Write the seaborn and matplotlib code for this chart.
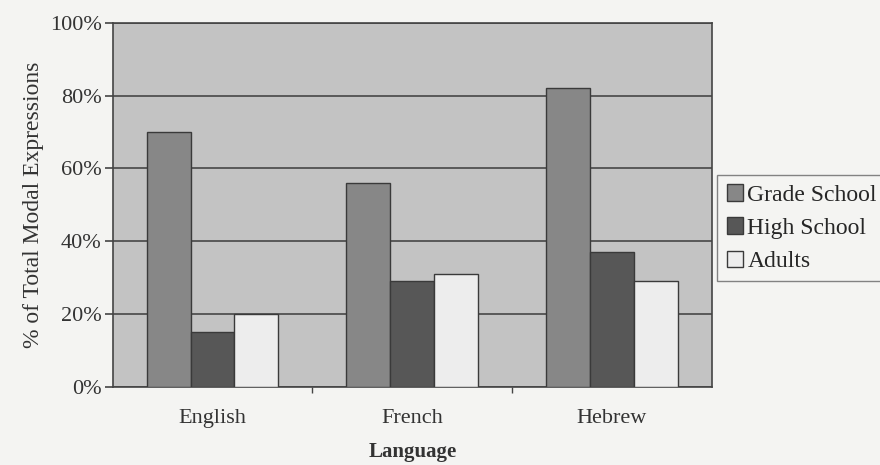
import pandas as pd
import numpy as np
import matplotlib.pyplot as plt
import seaborn as sns

# values
languages = ["English", "French", "Hebrew"]
groups = ["Grade School", "High School", "Adults"]
grade_school = [70, 56, 82]
high_school = [15, 29, 37]
adults = [20, 31, 29]

df = pd.DataFrame({
    "Language": languages * 3,
    "group": [g for g in groups for _ in languages],
    "pct": grade_school + high_school + adults,
})

sns.set_theme(style="white")
plt.rcParams["font.family"] = ["Liberation Serif", "DejaVu Serif"]

palette = {"Grade School": "#878787", "High School": "#575757", "Adults": "#ededed"}

fig = plt.figure(figsize=(8.8, 4.65), dpi=100, facecolor="#f4f4f2")
ax = fig.add_axes([0.128, 0.168, 0.681, 0.783])
ax.set_facecolor("#c3c3c3")

sns.barplot(data=df, x="Language", y="pct", hue="group", hue_order=groups,
            palette=palette, width=0.66, edgecolor="#3a3a3a", linewidth=1.0,
            saturation=1, ax=ax, zorder=3)

ax.set_ylim(0, 100)
ax.set_xlim(-0.5, 2.5)
ax.set_yticks(np.arange(0, 101, 20))
ax.set_yticklabels([f"{v}%" for v in range(0, 101, 20)], fontsize=16, color="#333333")
ax.tick_params(axis="x", labelsize=16, colors="#333333", length=0, pad=16)
ax.tick_params(axis="y", length=6, width=1.2, color="#444444", left=True, pad=2)
ax.set_xticks([0.5, 1.5], minor=True)
ax.tick_params(axis="x", which="minor", length=4, color="#444444", bottom=True)
ax.yaxis.grid(True, color="#505050", linewidth=1.3, zorder=1)
ax.set_axisbelow(True)

for side, sp in ax.spines.items():
    sp.set_color("#444444")
    sp.set_linewidth(1.2)

ax.set_xlabel("Language", fontsize=15, fontweight="bold", color="#333333", labelpad=10)
ax.set_ylabel("% of Total Modal Expressions", fontsize=17, color="#333333", labelpad=4)

ax.legend(loc="upper left", bbox_to_anchor=(0.815, 0.624), bbox_transform=fig.transFigure,
          frameon=True, fancybox=False, edgecolor="#666666", facecolor="#f4f4f2",
          fontsize=17, handlelength=0.68, handleheight=0.68, handletextpad=0.2,
          labelspacing=0.5, borderpad=0.4, borderaxespad=0, title=None)

fig.savefig("out.png", dpi=100, facecolor=fig.get_facecolor())
